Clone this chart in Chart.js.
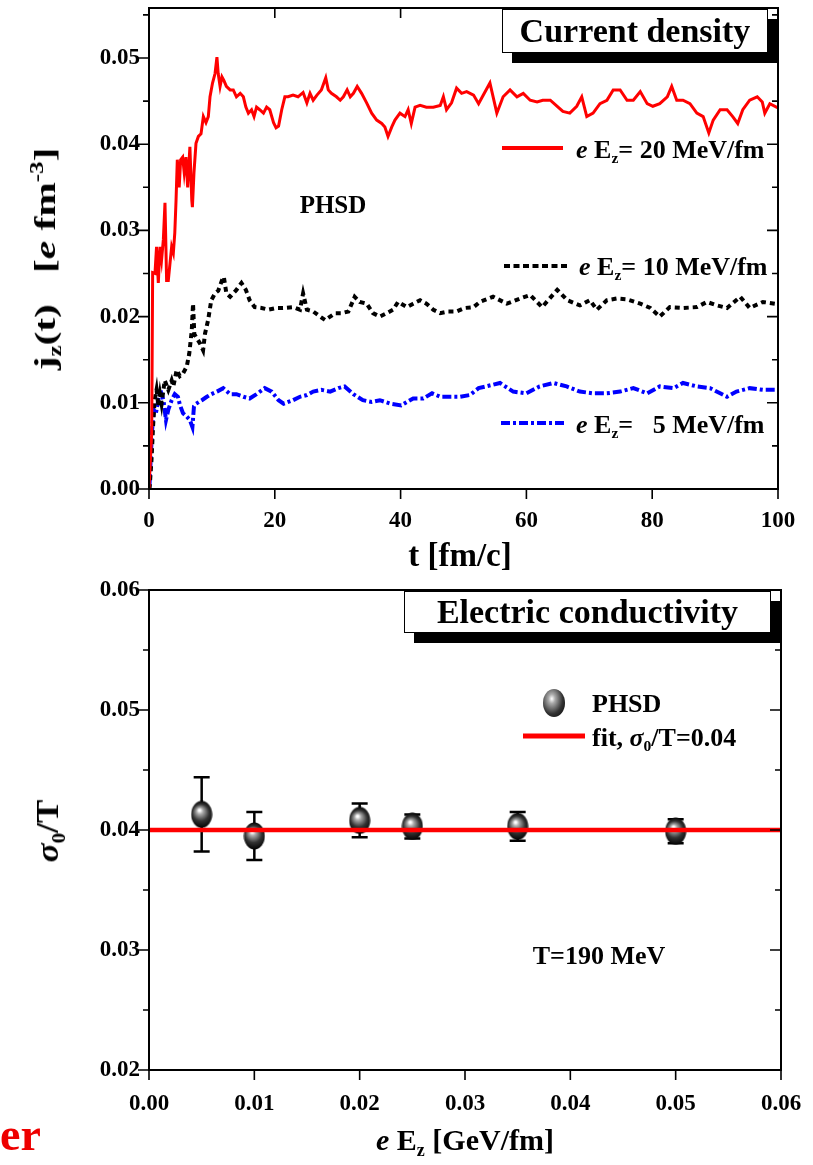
<!DOCTYPE html>
<html>
<head>
<meta charset="utf-8">
<script src="https://cdn.jsdelivr.net/npm/chart.js@4.4.1/dist/chart.umd.min.js"></script>
<style>
  body { margin: 0; background: #fff; width: 813px; height: 1165px; position: relative; overflow: hidden;
         font-family: "Liberation Serif", "Times New Roman", serif; font-weight: bold; color: #000; }
  canvas { position: absolute; left: 0; }
  #c1 { top: 0; }
  #c2 { top: 575px; }
  .t { position: absolute; white-space: nowrap; line-height: 1; }
  .l { transform: translate(0, -50%); }
  .c { transform: translate(-50%, -50%); }
  .box { position: absolute; background: #fff; border: 1.5px solid #000; box-shadow: 10px 10px 0 #000;
         font-size: 34px; text-align: center; box-sizing: border-box; white-space: nowrap; }
  sub { font-size: 60%; vertical-align: -0.35em; line-height: 0; }
  sup { font-size: 60%; vertical-align: 0.65em; line-height: 0; }
  svg { position: absolute; overflow: visible; }
</style>
</head>
<body>
<canvas id="c1" width="813" height="575"></canvas>
<canvas id="c2" width="813" height="590"></canvas>

<!-- top panel texts -->
<div class="box" style="left:502px;top:9px;width:266px;height:44px;line-height:41px">Current density</div>
<div class="t c" style="left:333px;top:204px;font-size:25px">PHSD</div>
<svg style="left:500px;top:140px" width="70" height="16"><line x1="2" y1="8" x2="63" y2="8" stroke="#ff0000" stroke-width="4"/></svg>
<div class="t l" style="left:576px;top:150px;font-size:26px"><i>e</i> E<sub>z</sub>= 20 MeV/fm</div>
<svg style="left:502px;top:258px" width="70" height="16"><line x1="2" y1="8" x2="65" y2="8" stroke="#000" stroke-width="4" stroke-dasharray="6 3.5"/></svg>
<div class="t l" style="left:579px;top:267px;font-size:26px"><i>e</i> E<sub>z</sub>= 10 MeV/fm</div>
<svg style="left:499px;top:415px" width="70" height="16"><line x1="2" y1="8" x2="66" y2="8" stroke="#0000ff" stroke-width="4" stroke-dasharray="9 3 3 3"/></svg>
<div class="t l" style="left:576px;top:425px;font-size:26px"><i>e</i> E<sub>z</sub>=&nbsp;&nbsp; 5 MeV/fm</div>
<div class="t c" style="left:460px;top:555px;font-size:33px">t [fm/c]</div>
<div class="t" style="left:45px;top:259px;font-size:30px;transform:translate(-50%,-50%) rotate(-90deg) scaleX(1.38)">j<sub>z</sub>(t)&nbsp;&nbsp; [<i>e</i> fm<sup>-3</sup>]</div>

<!-- bottom panel texts -->
<div class="box" style="left:404px;top:591px;width:367px;height:42px;line-height:39px">Electric conductivity</div>
<div style="position:absolute;left:543px;top:689px;width:22px;height:28px;border-radius:50%;background:radial-gradient(ellipse at 40% 35%, #fff 0%, #aaa 18%, #333 58%, #000 100%)"></div>
<div class="t l" style="left:592px;top:704px;font-size:26px">PHSD</div>
<svg style="left:521px;top:728px" width="70" height="16"><line x1="2" y1="8" x2="64" y2="8" stroke="#ff0000" stroke-width="5"/></svg>
<div class="t l" style="left:592px;top:738px;font-size:26px">fit, <i>σ</i><sub>0</sub>/T=0.04</div>
<div class="t c" style="left:599px;top:956px;font-size:26px">T=190 MeV</div>
<div class="t c" style="left:465px;top:1140px;font-size:30px"><i>e</i> E<sub>z</sub> [GeV/fm]</div>
<div class="t" style="left:47px;top:831px;font-size:32px;transform:translate(-50%,-50%) rotate(-90deg) scaleX(1.1)"><i>σ</i><sub>0</sub>/T</div>
<div class="t" style="left:0px;top:1112px;font-size:46px;color:#ee0000">er</div>

<script>
// ---- top panel: current density j_z(t) ----
const tRed = [0, 0.2, 0.43, 0.58, 0.95, 1.2, 1.48, 1.75, 2.0, 2.28, 2.54, 2.8, 3.07, 3.34, 3.6, 3.87, 4.1, 4.3, 4.5, 4.8,
  5.03, 5.35, 5.6, 5.88, 6.15, 6.5, 6.8, 6.9, 7.15, 7.47, 7.85, 8.27, 8.64, 9.06, 9.43, 9.7, 10.1, 10.5, 10.8, 11.0,
  11.3, 11.6, 11.9, 12.3, 12.9, 13.4, 13.9, 14.5, 15.0, 15.4, 15.8, 16.3, 16.7, 17.1, 17.6, 18.2, 18.7, 19.2, 19.8, 20.2,
  20.6, 21.1, 21.6, 22.1, 22.9, 23.7, 24.5, 25.1, 25.6, 26.1, 26.7, 27.4, 28.1, 28.5, 29.0, 29.8, 30.4, 30.9, 31.5, 32.0,
  32.5, 33.1, 33.8, 34.6, 35.4, 36.2, 37.0, 37.5, 38.0, 38.6, 39.1, 39.9, 40.7, 41.2, 41.7, 42.3, 43.1, 44.1, 45.2, 46.3,
  46.8, 47.3, 48.1, 48.9, 49.7, 50.5, 51.6, 52.4, 53.0, 54.2, 55.3, 56.3, 57.4, 58.5, 59.5, 60.6, 61.7, 62.6, 63.8, 64.9,
  65.8, 66.9, 68.0, 68.8, 69.6, 70.6, 71.7, 72.8, 73.8, 74.9, 76.0, 77.0, 78.1, 79.2, 80.1, 81.2, 82.4, 83.1, 83.9, 84.9,
  86.0, 87.1, 88.1, 89.0, 89.7, 90.8, 91.9, 92.8, 93.6, 94.4, 95.5, 96.7, 97.5, 97.9, 98.7, 100];
const jRed = [0, 0.0030, 0.0065, 0.0251, 0.0250, 0.0281, 0.0239, 0.0281, 0.0266, 0.0289, 0.0332, 0.0242, 0.0242, 0.0262, 0.0281, 0.0274, 0.0297, 0.0335, 0.0382, 0.0350,
  0.0382, 0.0385, 0.0367, 0.0385, 0.0350, 0.0397, 0.0335, 0.0327, 0.0367, 0.0401, 0.0409, 0.0412, 0.0432, 0.0425, 0.0432, 0.0455, 0.0471, 0.0482, 0.0501, 0.0482,
  0.0467, 0.0478, 0.0474, 0.0467, 0.0463, 0.0463, 0.0455, 0.0459, 0.0455, 0.0443, 0.0436, 0.0440, 0.0432, 0.0443, 0.0440, 0.0436, 0.0443, 0.0440, 0.0425, 0.0419,
  0.0421, 0.0440, 0.0455, 0.0455, 0.0457, 0.0455, 0.0460, 0.0448, 0.0459, 0.0451, 0.0457, 0.0463, 0.0477, 0.0463, 0.0459, 0.0455, 0.0451, 0.0455, 0.0463, 0.0455,
  0.0459, 0.0467, 0.0459, 0.0448, 0.0436, 0.0428, 0.0424, 0.0420, 0.0409, 0.0420, 0.0428, 0.0436, 0.0432, 0.0440, 0.0424, 0.0443, 0.0445, 0.0443, 0.0443, 0.0445,
  0.0455, 0.0440, 0.0448, 0.0465, 0.0459, 0.0461, 0.0457, 0.0447, 0.0455, 0.0471, 0.0436, 0.0455, 0.0463, 0.0455, 0.0459, 0.0451, 0.0449, 0.0451, 0.0451, 0.0444,
  0.0438, 0.0436, 0.0444, 0.0455, 0.0432, 0.0436, 0.0447, 0.0451, 0.0463, 0.0463, 0.0451, 0.0451, 0.0461, 0.0447, 0.0444, 0.0447, 0.0455, 0.0467, 0.0451, 0.0451,
  0.0447, 0.0436, 0.0432, 0.0413, 0.0428, 0.0440, 0.0440, 0.0432, 0.0424, 0.0440, 0.0451, 0.0455, 0.0449, 0.0436, 0.0447, 0.0442];

const tBlack = [0, 0.1, 0.4, 0.64, 0.9, 1.2, 1.5, 1.75, 2.0, 2.5, 3.07, 3.6, 3.87, 4.4, 4.9, 5.4, 6.0, 6.4, 6.8, 7.0,
  7.2, 7.5, 8.1, 8.6, 8.9, 9.4, 9.9, 10.5, 11.0, 11.6, 11.9, 12.3, 12.9, 13.9, 14.7, 15.4, 16.0, 16.8, 17.9, 19.0,
  20.3, 21.3, 22.9, 24.0, 24.5, 25.1, 26.1, 27.2, 28.0, 28.8, 29.6, 30.6, 31.7, 32.7, 33.5, 34.6, 35.6, 36.7, 37.8, 38.8,
  39.6, 41.0, 42.0, 43.1, 44.1, 45.2, 46.3, 47.6, 48.9, 50.2, 51.6, 52.6, 54.7, 56.9, 59.0, 60.6, 62.5, 64.9, 66.5, 68.5,
  70.1, 71.2, 72.8, 74.4, 76.0, 78.1, 79.7, 81.2, 82.8, 84.9, 87.1, 88.7, 90.3, 91.9, 94.0, 95.5, 97.6, 99.5, 100];
const jBlack = [0, 0.0002, 0.0034, 0.0072, 0.0103, 0.0115, 0.0096, 0.0110, 0.0099, 0.0126, 0.0115, 0.0126, 0.0119, 0.0138, 0.0131, 0.0134, 0.0142, 0.0157, 0.0184, 0.0215,
  0.0180, 0.0176, 0.0169, 0.0161, 0.0180, 0.0196, 0.0219, 0.0227, 0.0230, 0.0242, 0.0246, 0.0227, 0.0223, 0.0231, 0.0239, 0.0231, 0.0219, 0.0211, 0.0210, 0.0208,
  0.0210, 0.0210, 0.0211, 0.0208, 0.0227, 0.0208, 0.0206, 0.0200, 0.0196, 0.0200, 0.0204, 0.0204, 0.0206, 0.0223, 0.0217, 0.0215, 0.0204, 0.0200, 0.0204, 0.0208,
  0.0217, 0.0211, 0.0215, 0.0219, 0.0215, 0.0208, 0.0204, 0.0206, 0.0206, 0.0210, 0.0211, 0.0217, 0.0223, 0.0215, 0.0221, 0.0225, 0.0211, 0.0231, 0.0219, 0.0213,
  0.0219, 0.0208, 0.0219, 0.0221, 0.0220, 0.0215, 0.0210, 0.0200, 0.0211, 0.0210, 0.0211, 0.0217, 0.0213, 0.0210, 0.0223, 0.0210, 0.0217, 0.0215, 0.0213];

const tBlue = [0, 0.1, 0.3, 0.5, 0.75, 1.1, 1.48, 1.8, 2.3, 2.7, 3.07, 3.6, 4.1, 4.6, 4.9, 5.4, 6.0, 6.5, 6.9, 7.15,
  7.5, 8.4, 9.2, 9.9, 10.8, 11.8, 12.9, 13.9, 15.0, 16.0, 17.1, 18.4, 19.5, 20.6, 21.4, 22.9, 24.0, 25.1, 26.1, 27.4,
  28.8, 30.1, 31.1, 32.5, 34.0, 35.4, 36.7, 38.4, 40.1, 42.0, 43.6, 45.0, 46.3, 47.9, 49.4, 51.0, 52.4, 54.7, 55.8, 57.9,
  60.0, 62.1, 64.3, 66.4, 68.5, 70.6, 72.8, 74.9, 77.0, 79.2, 81.2, 83.4, 84.9, 87.1, 89.2, 90.8, 91.9, 93.4, 95.5, 97.6,
  99.5, 100];
const jBlue = [0, 0.0007, 0.0041, 0.0069, 0.0092, 0.0088, 0.0103, 0.0115, 0.0103, 0.0080, 0.0092, 0.0103, 0.0110, 0.0107, 0.0098, 0.0088, 0.0084, 0.0080, 0.0072, 0.0096,
  0.0099, 0.0103, 0.0107, 0.0110, 0.0113, 0.0117, 0.0110, 0.0110, 0.0107, 0.0105, 0.0110, 0.0117, 0.0113, 0.0103, 0.0099, 0.0103, 0.0107, 0.0109, 0.0113, 0.0115,
  0.0113, 0.0117, 0.0119, 0.0110, 0.0103, 0.0101, 0.0103, 0.0099, 0.0097, 0.0105, 0.0105, 0.0111, 0.0107, 0.0107, 0.0107, 0.0109, 0.0117, 0.0121, 0.0123, 0.0113,
  0.0111, 0.0119, 0.0123, 0.0119, 0.0113, 0.0111, 0.0111, 0.0113, 0.0117, 0.0111, 0.0119, 0.0117, 0.0123, 0.0119, 0.0117, 0.0111, 0.0107, 0.0113, 0.0117, 0.0115,
  0.0115, 0.0115];

// ---- bottom panel: conductivity sigma0/T vs eEz ----
const eField = [0.005, 0.01, 0.02, 0.025, 0.035, 0.05];
const sigmaT = [0.0413, 0.0395, 0.0408, 0.0403, 0.0403, 0.0399];
const sigmaErr = [0.0031, 0.0020, 0.0014, 0.0010, 0.0012, 0.0010];
const fitX = [0, 0.06];
const fitY = [0.04, 0.04];

const FONT = '"Liberation Serif", "Times New Roman", serif';
const pts = (xs, ys) => xs.map((x, i) => ({ x, y: ys[i] }));
const isStep = (v, s) => Math.abs(v / s - Math.round(v / s)) < 1e-6;

// frame + tick marks, drawn from the scales' own ticks
const frameTicks = {
  id: 'frameTicks',
  afterDraw(chart, args, opts) {
    const { ctx, chartArea: a, scales: { x, y } } = chart;
    ctx.save();
    ctx.strokeStyle = '#000';
    ctx.lineWidth = 2;
    ctx.strokeRect(a.left, a.top, a.right - a.left, a.bottom - a.top);
    ctx.lineWidth = 1.6;
    ctx.beginPath();
    y.ticks.forEach(t => {
      const py = y.getPixelForValue(t.value);
      const len = t.label ? 11 : 6;
      ctx.moveTo(a.left - len, py); ctx.lineTo(a.left, py);
      ctx.moveTo(a.right, py); ctx.lineTo(a.right - len, py);
    });
    x.ticks.forEach(t => {
      const px = x.getPixelForValue(t.value);
      ctx.moveTo(px, a.bottom); ctx.lineTo(px, a.bottom + 10);
      if (opts.topTicks) { ctx.moveTo(px, a.top); ctx.lineTo(px, a.top + 10); }
    });
    ctx.stroke();
    ctx.restore();
  }
};

const errorBars = {
  id: 'errorBars',
  beforeDatasetsDraw(chart) {
    const { ctx, scales: { x, y } } = chart;
    ctx.save();
    ctx.strokeStyle = '#000';
    ctx.lineWidth = 2.5;
    eField.forEach((e, i) => {
      const px = x.getPixelForValue(e);
      const hi = y.getPixelForValue(sigmaT[i] + sigmaErr[i]);
      const lo = y.getPixelForValue(sigmaT[i] - sigmaErr[i]);
      ctx.beginPath();
      ctx.moveTo(px, hi); ctx.lineTo(px, lo);
      ctx.moveTo(px - 8, hi); ctx.lineTo(px + 8, hi);
      ctx.moveTo(px - 8, lo); ctx.lineTo(px + 8, lo);
      ctx.stroke();
    });
    ctx.restore();
  }
};

function sphere(w, h) {
  const c = document.createElement('canvas');
  c.width = w; c.height = h;
  const g = c.getContext('2d');
  const grad = g.createRadialGradient(w * 0.4, h * 0.35, 1, w * 0.5, h * 0.5, w * 0.62);
  grad.addColorStop(0, '#ffffff');
  grad.addColorStop(0.18, '#aaaaaa');
  grad.addColorStop(0.58, '#333333');
  grad.addColorStop(1, '#000000');
  g.fillStyle = grad;
  g.beginPath();
  g.ellipse(w / 2, h / 2, w / 2 - 0.5, h / 2 - 0.5, 0, 0, Math.PI * 2);
  g.fill();
  return c;
}

// fixed axis sizes, no label overflow padding, so the plot area sits where the frame is
const sizeX = h => s => { s.height = h; s.paddingLeft = 0; s.paddingRight = 0; };
const sizeY = w => s => { s.width = w; s.paddingTop = 0; s.paddingBottom = 0; };
const tickFont = { family: FONT, size: 23, weight: 'bold' };

function axis(opts) {
  return Object.assign({
    type: 'linear',
    grid: { display: false, drawTicks: false },
    border: { display: false }
  }, opts);
}

new Chart(document.getElementById('c1'), {
  type: 'line',
  data: {
    datasets: [
      { data: pts(tRed, jRed), borderColor: '#ff0000', borderWidth: 3, pointRadius: 0, tension: 0 },
      { data: pts(tBlack, jBlack), borderColor: '#000000', borderWidth: 4, borderDash: [5, 4], pointRadius: 0, tension: 0 },
      { data: pts(tBlue, jBlue), borderColor: '#0000ff', borderWidth: 4, borderDash: [9, 3, 3, 3], pointRadius: 0, tension: 0 }
    ]
  },
  options: {
    responsive: false, animation: false, events: [],
    layout: { padding: { top: 8, right: 35, left: 0, bottom: 0 } },
    plugins: { legend: { display: false }, tooltip: { enabled: false }, frameTicks: { topTicks: true } },
    scales: {
      x: axis({
        min: 0, max: 100,
        afterFit: sizeX(86),
        ticks: { color: '#000', font: tickFont, stepSize: 20, padding: 18, maxRotation: 0, autoSkip: false,
                 callback: v => String(v) }
      }),
      y: axis({
        min: 0, max: 0.0558,
        afterFit: sizeY(149),
        afterBuildTicks: s => { s.ticks = s.ticks.filter(t => isStep(t.value, 0.005)); },
        ticks: { color: '#000', font: tickFont, stepSize: 0.005, includeBounds: false,
                 padding: 9, autoSkip: false,
                 callback: v => isStep(v, 0.01) ? v.toFixed(2) : '' }
      })
    }
  },
  plugins: [frameTicks]
});

new Chart(document.getElementById('c2'), {
  type: 'line',
  data: {
    datasets: [
      { data: pts(fitX, fitY), borderColor: '#ff0000', borderWidth: 4.5, pointRadius: 0, order: 0 },
      { data: pts(eField, sigmaT), showLine: false, pointStyle: sphere(22, 28), pointRadius: 11, order: 1 }
    ]
  },
  options: {
    responsive: false, animation: false, events: [],
    layout: { padding: { top: 15, right: 32, left: 0, bottom: 0 } },
    plugins: { legend: { display: false }, tooltip: { enabled: false }, frameTicks: { topTicks: false } },
    scales: {
      x: axis({
        min: 0, max: 0.06,
        afterFit: sizeX(95),
        ticks: { color: '#000', font: tickFont, stepSize: 0.01, padding: 20, maxRotation: 0,
                 autoSkip: false, callback: v => v.toFixed(2) }
      }),
      y: axis({
        min: 0.02, max: 0.06,
        afterFit: sizeY(149),
        afterBuildTicks: s => { s.ticks = s.ticks.filter(t => isStep(t.value, 0.005)); },
        ticks: { color: '#000', font: tickFont, stepSize: 0.005, padding: 9, autoSkip: false,
                 callback: v => isStep(v, 0.01) ? v.toFixed(2) : '' }
      })
    }
  },
  plugins: [frameTicks, errorBars]
});
</script>
</body>
</html>
